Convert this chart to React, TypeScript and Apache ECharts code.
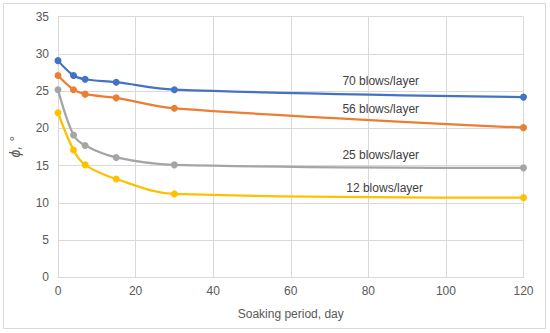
import React, { useEffect, useRef } from "react";
import * as echarts from "echarts";

const days = [0, 4, 7, 15, 30, 120];
const blows70 = [29.1, 27.1, 26.6, 26.2, 25.2, 24.2];
const blows56 = [27.1, 25.2, 24.6, 24.1, 22.7, 20.1];
const blows25 = [25.2, 19.1, 17.7, 16.1, 15.1, 14.7];
const blows12 = [22.1, 17.1, 15.1, 13.2, 11.2, 10.7];
const seriesNames = ["70 blows/layer", "56 blows/layer", "25 blows/layer", "12 blows/layer"];
const colors = ["#4472C4", "#ED7D31", "#A5A5A5", "#FFC000"];
const labelPos: [number, number][] = [
  [83.2, 26.4],
  [83.2, 22.6],
  [83.2, 16.4],
  [84.2, 12.0],
];

const FONT = "'Liberation Sans', 'Open Sans', sans-serif";

export default function App() {
  const ref = useRef<HTMLDivElement>(null);
  useEffect(() => {
    document.body.style.margin = "0";
    const chart = echarts.init(ref.current!, null, { renderer: "svg" });
    const all = [blows70, blows56, blows25, blows12];
    chart.setOption({
      animation: false,
      backgroundColor: "#ffffff",
      textStyle: { fontFamily: FONT },
      grid: { left: 57.3, right: 26.5, top: 16.7, bottom: 55.7, containLabel: false },
      graphic: [
        {
          type: "rect",
          shape: { x: 3.5, y: 3.5, width: 542, height: 325 },
          style: { fill: "none", stroke: "#d9d9d9", lineWidth: 1 },
          silent: true,
        },
      ],
      xAxis: {
        type: "value",
        min: 0,
        max: 120,
        interval: 20,
        name: "Soaking period, day",
        nameLocation: "middle",
        nameGap: 31,
        nameTextStyle: { color: "#595959", fontSize: 12, fontFamily: FONT },
        axisLine: { show: true, lineStyle: { color: "#d9d9d9" } },
        axisTick: { show: false },
        axisLabel: { color: "#595959", fontSize: 12, margin: 8, fontFamily: FONT },
        splitLine: { show: true, lineStyle: { color: "#d9d9d9", width: 1 } },
      },
      yAxis: {
        type: "value",
        min: 0,
        max: 35,
        interval: 5,
        name: "ϕ, °",
        nameLocation: "middle",
        nameGap: 36,
        nameRotate: 90,
        nameTextStyle: { color: "#595959", fontSize: 14, fontStyle: "italic", fontFamily: FONT },
        axisLine: { show: false },
        axisTick: { show: false },
        axisLabel: { color: "#595959", fontSize: 12, margin: 9, fontFamily: FONT },
        splitLine: { show: true, lineStyle: { color: "#d9d9d9", width: 1 } },
      },
      series: all.map((vals, i) => ({
        name: seriesNames[i],
        type: "line",
        smooth: 0.35,
        data: days.map((d, j) => [d, vals[j]]),
        symbol: "circle",
        symbolSize: 7,
        lineStyle: { color: colors[i], width: 2.25 },
        itemStyle: { color: colors[i] },
        markPoint: {
          symbol: "circle",
          symbolSize: 0,
          silent: true,
          data: [
            {
              coord: labelPos[i],
              label: {
                show: true,
                formatter: seriesNames[i],
                color: "#404040",
                fontSize: 12,
                fontFamily: FONT,
                position: "inside",
              },
            },
          ],
        },
      })),
    });
    return () => chart.dispose();
  }, []);
  return <div ref={ref} style={{ width: 550, height: 333 }} />;
}
